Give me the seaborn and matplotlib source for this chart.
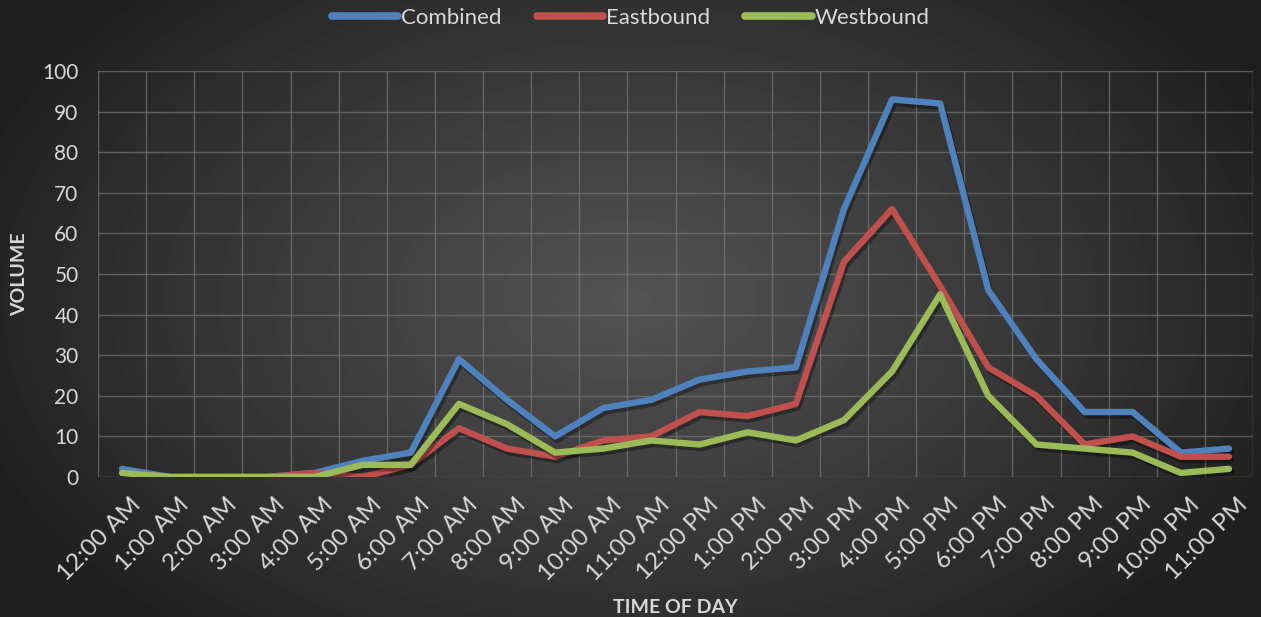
import numpy as np
import pandas as pd
import matplotlib
matplotlib.use("Agg")
import matplotlib.pyplot as plt
import matplotlib.patheffects as pe
import matplotlib.transforms as mtrans
import seaborn as sns

# Données
hours = ["12:00 AM", "1:00 AM", "2:00 AM", "3:00 AM", "4:00 AM", "5:00 AM",
         "6:00 AM", "7:00 AM", "8:00 AM", "9:00 AM", "10:00 AM", "11:00 AM",
         "12:00 PM", "1:00 PM", "2:00 PM", "3:00 PM", "4:00 PM", "5:00 PM",
         "6:00 PM", "7:00 PM", "8:00 PM", "9:00 PM", "10:00 PM", "11:00 PM"]
combined = [2, 0, 0, 0, 1, 4, 6, 29, 19, 10, 17, 19, 24, 26, 27, 66, 93, 92, 46, 29, 16, 16, 6, 7]
eastbound = [1, 0, 0, 0, 1, 0, 3, 12, 7, 5, 9, 10, 16, 15, 18, 53, 66, 47, 27, 20, 8, 10, 5, 5]
westbound = [1, 0, 0, 0, 0, 3, 3, 18, 13, 6, 7, 9, 8, 11, 9, 14, 26, 45, 20, 8, 7, 6, 1, 2]
series_names = ["Combined", "Eastbound", "Westbound"]
colors = ["#4f81bd", "#c0504d", "#9bbb59"]

df = pd.DataFrame({
    "hour": list(range(len(hours))) * 3,
    "volume": combined + eastbound + westbound,
    "series": np.repeat(series_names, len(hours)),
})

sns.set_style("dark")
plt.rcParams["font.family"] = ["Lato", "DejaVu Sans"]
txt = "#d9d9d9"

fig = plt.figure(figsize=(12.61, 6.17), dpi=100)

# Fond en dégradé radial
bg = fig.add_axes([0, 0, 1, 1], zorder=0)
yy, xx = np.mgrid[0:617, 0:1261]
r = np.sqrt(((xx - 630) / 760.0) ** 2 + ((yy - 300) / 480.0) ** 2)
shade = np.clip(0.33 - 0.22 * r, 0.12, 0.33)
bg.imshow(shade, cmap="gray", vmin=0, vmax=1, aspect="auto")
bg.axis("off")

ax = fig.add_axes([98 / 1261, 1 - 477 / 617, (1253 - 98) / 1261, (477 - 71) / 617], zorder=1)
ax.patch.set_alpha(0)

sns.lineplot(data=df, x="hour", y="volume", hue="series", palette=colors,
             linewidth=4.6, ax=ax, legend=False)
for line in ax.lines:
    line.set_solid_capstyle("round")
    line.set_solid_joinstyle("round")
    line.set_path_effects([pe.SimpleLineShadow(offset=(1.5, -2.5), alpha=0.35, shadow_color="black"),
                           pe.Normal()])

ax.set_xlim(-0.5, len(hours) - 0.5)
ax.set_ylim(0, 100)
ax.set_yticks(range(0, 101, 10))
ax.set_xticks(range(len(hours)))
ax.set_xticklabels(hours, rotation=45, ha="right", rotation_mode="anchor")
ax.set_xticks(np.arange(-0.5, len(hours), 1), minor=True)
ax.tick_params(axis="x", which="major", length=0, colors=txt, labelsize=17.5, pad=12)
ax.tick_params(axis="x", which="minor", length=0)
ax.tick_params(axis="y", length=0, colors=txt, labelsize=15, pad=14)
# léger décalage des étiquettes vers la droite
shift = mtrans.ScaledTranslation(8 / 100, 0, fig.dpi_scale_trans)
for lab in ax.get_xticklabels():
    lab.set_transform(lab.get_transform() + shift)
ax.grid(False)
ax.grid(True, axis="y", which="major", color="#767676", linewidth=1.0, alpha=0.7)
ax.grid(True, axis="x", which="minor", color="#767676", linewidth=1.0, alpha=0.7)
for s in ax.spines.values():
    s.set_visible(False)

ax.set_xlabel("TIME OF DAY", color=txt, fontsize=14, fontweight="bold", labelpad=10)
ax.set_ylabel("VOLUME", color=txt, fontsize=14, fontweight="bold", labelpad=10)

handles = [plt.Line2D([0], [0], color=c, linewidth=5.5, solid_capstyle="round") for c in colors]
leg = fig.legend(handles, series_names, loc="upper center", bbox_to_anchor=(0.5, 1.02),
                 ncol=3, frameon=False, fontsize=16, handlelength=3.0, handletextpad=0.1,
                 columnspacing=1.6, labelcolor=txt)

fig.savefig("out.png", dpi=100)
